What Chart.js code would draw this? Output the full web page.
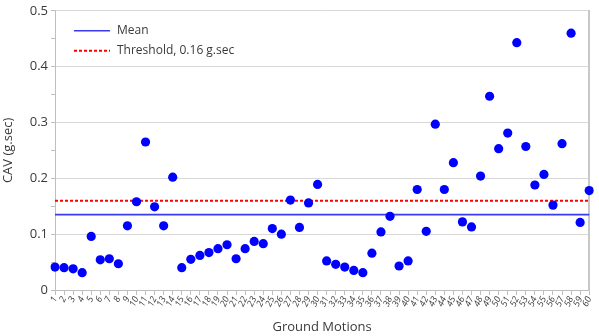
<!DOCTYPE html>
<html>
<head>
<meta charset="utf-8">
<script src="https://cdn.jsdelivr.net/npm/chart.js@4.4.0/dist/chart.umd.min.js"></script>
<style>
  html, body { margin: 0; padding: 0; background: #fff; }
  #wrap { width: 599px; height: 336px; }
</style>
</head>
<body>
<div id="wrap"><canvas id="grafica" width="599" height="336"></canvas></div>
<script>
// ground motion numbers 1..60
var motions = ['1','2','3','4','5','6','7','8','9','10','11','12','13','14','15','16','17','18','19','20',
  '21','22','23','24','25','26','27','28','29','30','31','32','33','34','35','36','37','38','39','40',
  '41','42','43','44','45','46','47','48','49','50','51','52','53','54','55','56','57','58','59','60'];

// CAV values (g.sec)
var cav = [0.041,0.040,0.038,0.031,0.096,0.054,0.056,0.047,0.115,0.158,
  0.265,0.149,0.115,0.202,0.040,0.055,0.062,0.067,0.074,0.081,
  0.056,0.074,0.087,0.083,0.110,0.100,0.161,0.112,0.156,0.189,
  0.052,0.046,0.041,0.035,0.031,0.066,0.104,0.132,0.043,0.052,
  0.180,0.105,0.297,0.180,0.228,0.122,0.113,0.204,0.347,0.253,
  0.281,0.443,0.257,0.188,0.207,0.152,0.262,0.460,0.121,0.178];

var threshold = 0.16;
var mean = cav.reduce(function(a,b){return a+b;},0) / cav.length;

var yMin = 0, yMax = 0.5, yStep = 0.05;

var txt = '#3a3a3a';
var fam = '"Open Sans", "Noto Sans", sans-serif';

// legend drawn inside the plot, top left, two rows
var innerLegend = {
  id: 'innerLegend',
  afterDraw: function(chart) {
    var c = chart.ctx, a = chart.chartArea;
    var items = chart.data.datasets.filter(function(d){ return d.inLegend; });
    c.save();
    c.font = '12px ' + fam;
    c.textBaseline = 'middle';
    items.forEach(function(d, i) {
      var y = a.top + 20 + i * 20;
      var x0 = a.left + 19;
      c.beginPath();
      c.strokeStyle = d.borderColor;
      c.lineWidth = d.borderWidth;
      c.setLineDash(d.borderDash || []);
      c.moveTo(x0, y);
      c.lineTo(x0 + 36, y);
      c.stroke();
      c.setLineDash([]);
      c.fillStyle = txt;
      c.fillText(d.label, x0 + 43, y);
    });
    c.restore();
  }
};

var chart = new Chart(document.getElementById('grafica').getContext('2d'), {
  type: 'line',
  data: {
    labels: motions,
    datasets: [
      {
        label: 'CAV',
        data: cav,
        showLine: false,
        pointRadius: 4.6,
        pointHoverRadius: 4.6,
        pointBackgroundColor: '#0000ff',
        pointBorderWidth: 0,
        borderColor: '#0000ff',
        order: 0
      },
      {
        label: 'Mean',
        inLegend: true,
        data: [{x: motions[0], y: mean}, {x: motions[motions.length-1], y: mean}],
        borderColor: '#3a3af0',
        borderWidth: 1.6,
        pointRadius: 0,
        order: 2
      },
      {
        label: 'Threshold, 0.16 g.sec',
        inLegend: true,
        data: [{x: motions[0], y: threshold}, {x: motions[motions.length-1], y: threshold}],
        borderColor: '#ff0000',
        borderWidth: 2,
        borderDash: [3, 2],
        pointRadius: 0,
        order: 1
      }
    ]
  },
  options: {
    responsive: false,
    animation: false,
    layout: { padding: { top: 8, right: 8, left: 0, bottom: 0 } },
    plugins: {
      legend: { display: false },
      tooltip: { enabled: false }
    },
    scales: {
      x: {
        type: 'category',
        offset: false,
        grid: { drawOnChartArea: false, color: '#bfbfbf', tickLength: 5 },
        border: { color: '#bfbfbf' },
        ticks: {
          autoSkip: false, maxRotation: 65, minRotation: 65,
          color: txt, padding: 0,
          font: { family: fam, size: 9, style: 'italic' }
        },
        title: {
          display: true, text: 'Ground Motions', color: txt,
          font: { family: fam, size: 13 }, padding: { top: 0, bottom: 1 }
        },
        afterFit: function(s) { s.height = 46; }
      },
      y: {
        min: yMin, max: yMax,
        grid: {
          color: function(ctx) {
            var v = Math.round(ctx.tick.value * 100);
            return v % 10 === 0 ? '#d9d9d9' : 'rgba(0,0,0,0)';
          },
          tickColor: '#bfbfbf',
          tickLength: 4
        },
        border: { color: '#bfbfbf' },
        ticks: {
          stepSize: yStep, autoSkip: false, color: txt, padding: 3,
          font: { family: fam, size: 13 },
          callback: function(v) {
            var r = Math.round(v * 100);
            if (r % 10 !== 0) return '';
            return r === 0 ? '0' : (r / 100).toFixed(1);
          }
        },
        title: {
          display: true, text: 'CAV (g.sec)', color: txt,
          font: { family: fam, size: 13 }, padding: { top: 0, bottom: 2 }
        },
        afterFit: function(s) { s.width = 55; }
      },
      yRight: {
        position: 'right',
        min: yMin, max: yMax,
        ticks: { display: false },
        grid: { drawOnChartArea: false, drawTicks: false },
        border: { color: '#c8c8c8', width: 2 },
        afterFit: function(s) { s.width = 0; }
      }
    }
  },
  plugins: [innerLegend]
});
</script>
</body>
</html>
